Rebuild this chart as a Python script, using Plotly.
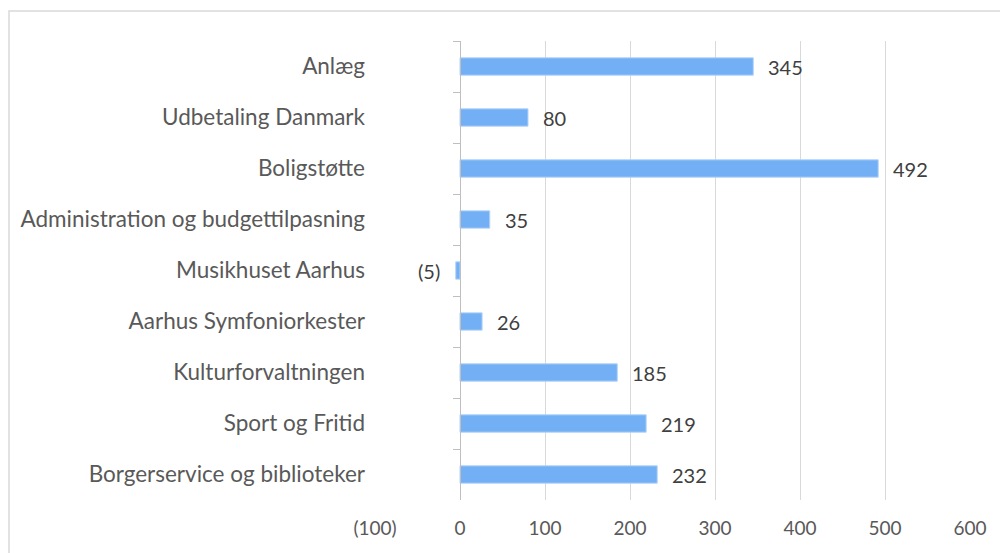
import plotly.graph_objects as go

categories = [
    "Anlæg",
    "Udbetaling Danmark",
    "Boligstøtte",
    "Administration og budgettilpasning",
    "Musikhuset Aarhus",
    "Aarhus Symfoniorkester",
    "Kulturforvaltningen",
    "Sport og Fritid",
    "Borgerservice og biblioteker",
]
values = [345, 80, 492, 35, -5, 26, 185, 219, 232]
x_ticks = [-100, 0, 100, 200, 300, 400, 500, 600]


def fmt(v):
    return f"({abs(v)})" if v < 0 else f"{v}"


x_tick_text = [fmt(t) for t in x_ticks]

# page body has an 8px margin, so the figure starts at (8, 8)
OFF = 8
W, H = 1008 - OFF, 553 - OFF
ML, MT = 375 - OFF, 41 - OFF
PW, PH = 595, 459
MR = W - ML - PW
MB = H - MT - PH
FONT = "Lato"

fig = go.Figure()
fig.add_trace(go.Bar(
    x=values, y=categories, orientation="h",
    marker=dict(color="#72AFF5", line=dict(color="#B3D3F8", width=1)),
    width=0.34, hoverinfo="skip", showlegend=False,
))
# invisible trace for the category axis drawn at x = 0
fig.add_trace(go.Scatter(
    x=[0] * len(categories), y=categories, yaxis="y2", mode="markers",
    marker=dict(opacity=0), hoverinfo="skip", showlegend=False,
))

annotations = []
for c, v in zip(categories, values):
    annotations.append(dict(
        x=v, y=c, xref="x", yref="y", text=fmt(v), showarrow=False,
        xanchor="left" if v >= 0 else "right",
        xshift=13 if v >= 0 else -14,
        font=dict(family=FONT, size=20, color="#404040"),
    ))

xmin, xmax = x_ticks[0], x_ticks[-1]
pos0 = (0 - xmin) / (xmax - xmin)

fig.update_layout(
    width=W, height=H,
    margin=dict(l=ML, r=MR, t=MT, b=MB, autoexpand=False),
    paper_bgcolor="white", plot_bgcolor="white",
    font=dict(family=FONT, size=19, color="#595959"),
    xaxis=dict(
        range=[xmin, xmax], tickvals=x_ticks, ticktext=x_tick_text,
        showgrid=True, gridcolor="#D9D9D9", gridwidth=1.3,
        zeroline=False, showline=False, ticks="",
        tickfont=dict(size=19, color="#595959"),
        ticklabelstandoff=15, automargin=False,
    ),
    yaxis=dict(
        type="category", categoryorder="array", categoryarray=categories,
        range=[len(categories) - 0.5, -0.5],
        showgrid=False, zeroline=False, showline=False, ticks="",
        tickfont=dict(size=22.5, color="#595959"),
        ticklabelstandoff=9, automargin=False,
    ),
    yaxis2=dict(
        type="category", categoryorder="array", categoryarray=categories,
        range=[len(categories) - 0.5, -0.5],
        overlaying="y", anchor="free", position=pos0, side="left",
        showgrid=False, zeroline=False, showline=True,
        linecolor="#BFBFBF", linewidth=1.3,
        ticks="outside", tickson="boundaries", ticklen=7,
        tickcolor="#BFBFBF", tickwidth=1.3,
        showticklabels=False, automargin=False,
    ),
    annotations=annotations,
    shapes=[dict(
        type="rect", xref="paper", yref="paper", layer="below",
        x0=(9 - OFF - ML) / PW, x1=1 + (1030 - OFF - (ML + PW)) / PW,
        y0=-(H + 20 - (MT + PH)) / PH, y1=1 + (MT - (11 - OFF)) / PH,
        line=dict(color="#D9D9D9", width=1.5), fillcolor="rgba(0,0,0,0)",
    )],
)

fig.write_html("out.html")
